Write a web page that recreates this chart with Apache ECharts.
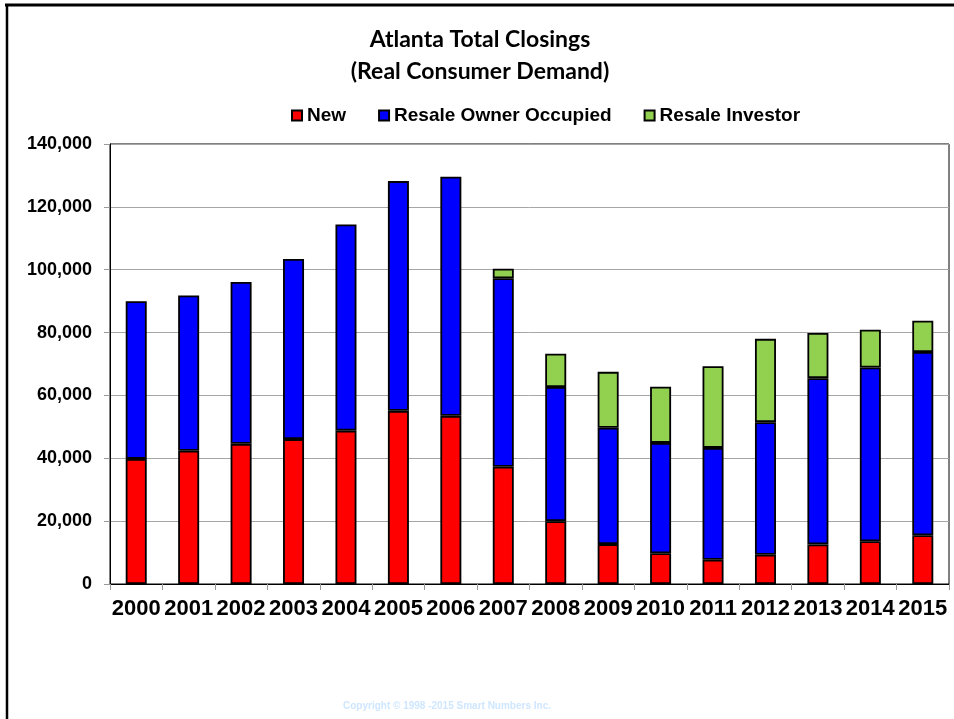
<!DOCTYPE html>
<html>
<head>
<meta charset="utf-8">
<script src="https://cdn.jsdelivr.net/npm/echarts@6/dist/echarts.min.js"></script>
<style>html,body{margin:0;padding:0;background:#fff;}#c{width:954px;height:719px;}</style>
</head>
<body>
<div id="c"></div>
<script>
const years = ['2000','2001','2002','2003','2004','2005','2006','2007','2008','2009','2010','2011','2012','2013','2014','2015'];
const newHomes = [39800, 42400, 44600, 46100, 48800, 55100, 53500, 37300, 20000, 12700, 9800, 7700, 9300, 12600, 13600, 15500];
const resaleOwner = [50200, 49400, 51500, 57300, 65600, 73100, 76100, 60000, 42700, 37000, 35100, 35600, 42200, 52900, 55300, 58300];
const resaleInvestor = [null, null, null, null, null, null, null, 3000, 10600, 17800, 17900, 26000, 26500, 14400, 12000, 10000];
const yTicks = [0, 20000, 40000, 60000, 80000, 100000, 120000, 140000];

const chart = echarts.init(document.getElementById('c'));
const barStyle = (c) => ({ color: c, borderColor: '#000', borderWidth: 1.8 });
const option = {
  animation: false,
  backgroundColor: '#fff',
  title: {
    text: 'Atlanta Total Closings\n(Real Consumer Demand)',
    left: 475,
    textAlign: 'center',
    top: 19,
    textStyle: { fontFamily: 'Lato', fontWeight: 'bold', fontSize: 23, color: '#000', lineHeight: 32 }
  },
  legend: {
    left: 286,
    top: 101,
    icon: 'rect',
    itemWidth: 10,
    itemHeight: 10,
    itemGap: 32,
    textStyle: { fontFamily: 'Liberation Sans', fontWeight: 'bold', fontSize: 19, color: '#000' },
    data: ['New', 'Resale Owner Occupied', 'Resale Investor']
  },
  grid: { left: 110, right: 5, top: 144, bottom: 135, show: true, borderColor: '#000', borderWidth: 1 },
  xAxis: {
    type: 'category',
    data: years,
    axisLine: { lineStyle: { color: '#000', width: 1 } },
    axisTick: { show: true, length: 6, lineStyle: { color: '#999' } },
    axisLabel: { interval: 0, margin: 14, color: '#000', fontFamily: 'Liberation Sans', fontWeight: 'bold', fontSize: 22 }
  },
  yAxis: {
    type: 'value',
    min: yTicks[0],
    max: yTicks[yTicks.length - 1],
    interval: yTicks[1] - yTicks[0],
    axisLine: { show: true, lineStyle: { color: '#000', width: 1 } },
    axisTick: { show: true, length: 6, lineStyle: { color: '#999' } },
    splitLine: { lineStyle: { color: '#a6a6a6', width: 1 } },
    axisLabel: {
      margin: 18, color: '#000', fontFamily: 'Liberation Sans', fontWeight: 'bold', fontSize: 18,
      formatter: (v) => v.toLocaleString('en-US')
    }
  },
  series: [
    { name: 'New', type: 'bar', stack: 'total', barWidth: 21, data: newHomes, itemStyle: barStyle('#ff0000') },
    { name: 'Resale Owner Occupied', type: 'bar', stack: 'total', barWidth: 21, data: resaleOwner, itemStyle: barStyle('#0000ff') },
    { name: 'Resale Investor', type: 'bar', stack: 'total', barWidth: 21, data: resaleInvestor, itemStyle: barStyle('#92d050') }
  ],
  graphic: [
    { type: 'line', shape: { x1: 5, y1: 5, x2: 954, y2: 5 }, style: { stroke: '#000', lineWidth: 3 } },
    { type: 'line', shape: { x1: 7, y1: 5, x2: 7, y2: 719 }, style: { stroke: '#000', lineWidth: 2.5 } },
    { type: 'text', x: 447, y: 706, style: { text: 'Copyright \u00a9 1998 -2015 Smart Numbers Inc.', fill: '#cfe6ff', font: 'bold 10px "Liberation Sans"', align: 'center', verticalAlign: 'middle' } }
  ]
};
chart.setOption(option);
</script>
</body>
</html>
